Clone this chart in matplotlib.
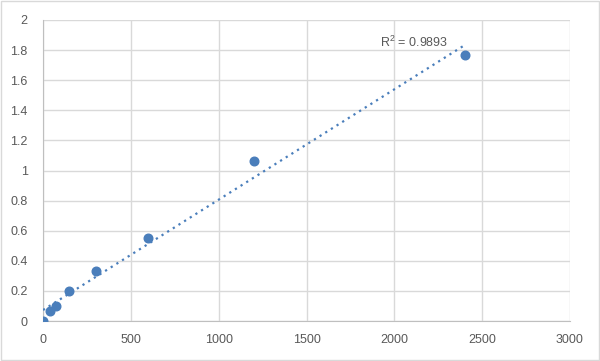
import matplotlib
matplotlib.use("Agg")
import matplotlib.pyplot as plt
import numpy as np

plt.rcParams['font.family'] = ['Liberation Sans', 'DejaVu Sans']
plt.rcParams['mathtext.fontset'] = 'custom'
plt.rcParams['mathtext.rm'] = 'Liberation Sans'

x_vals = [0, 37.5, 75, 150, 300, 600, 1200, 2400]
y_vals = [0.0, 0.066, 0.10, 0.20, 0.335, 0.55, 1.06, 1.765]
x_ticks = [0, 500, 1000, 1500, 2000, 2500, 3000]
y_ticks = [0, 0.2, 0.4, 0.6, 0.8, 1, 1.2, 1.4, 1.6, 1.8, 2]
r2_label = "R$^\\mathrm{2}$ = 0.9893"

blue = "#4a7ebb"
grid_c = "#d9d9d9"
txt_c = "#595959"

fig = plt.figure(figsize=(6.0, 3.61), dpi=100)
fig.patches.append(plt.Rectangle((0.002, 0.003), 0.996, 0.994, transform=fig.transFigure,
                                 fill=False, edgecolor="#d9d9d9", linewidth=1.0))
ax = fig.add_axes([0.0717, 0.1108, 0.8783, 0.8338])

coef = np.polyfit(x_vals, y_vals, 1)
xl = np.array([0, 2400])
ax.plot(xl, np.polyval(coef, xl), linestyle=(0, (1, 2)), color=blue, linewidth=1.6, zorder=3)
ax.plot(x_vals, y_vals, "o", color=blue, markersize=6.2, zorder=4)

ax.set_xlim(0, 3000)
ax.set_ylim(0, 2)
ax.set_xticks(x_ticks)
ax.set_yticks(y_ticks)
ax.set_xticklabels([str(t) for t in x_ticks])
ax.set_yticklabels([f"{t:g}" for t in y_ticks])
ax.grid(True, color=grid_c, linewidth=1.0)
ax.set_axisbelow(True)
for s in ["top", "right"]:
    ax.spines[s].set_visible(False)
ax.spines["left"].set_color("#bfbfbf")
ax.spines["bottom"].set_color("#bfbfbf")
ax.tick_params(length=0, colors=txt_c, labelsize=9, pad=9)
ax.tick_params(axis="y", pad=11)

ax.text(1920, 1.85, r2_label, fontsize=9, color=txt_c, ha="left", va="center")

fig.savefig("out.png", dpi=100)
